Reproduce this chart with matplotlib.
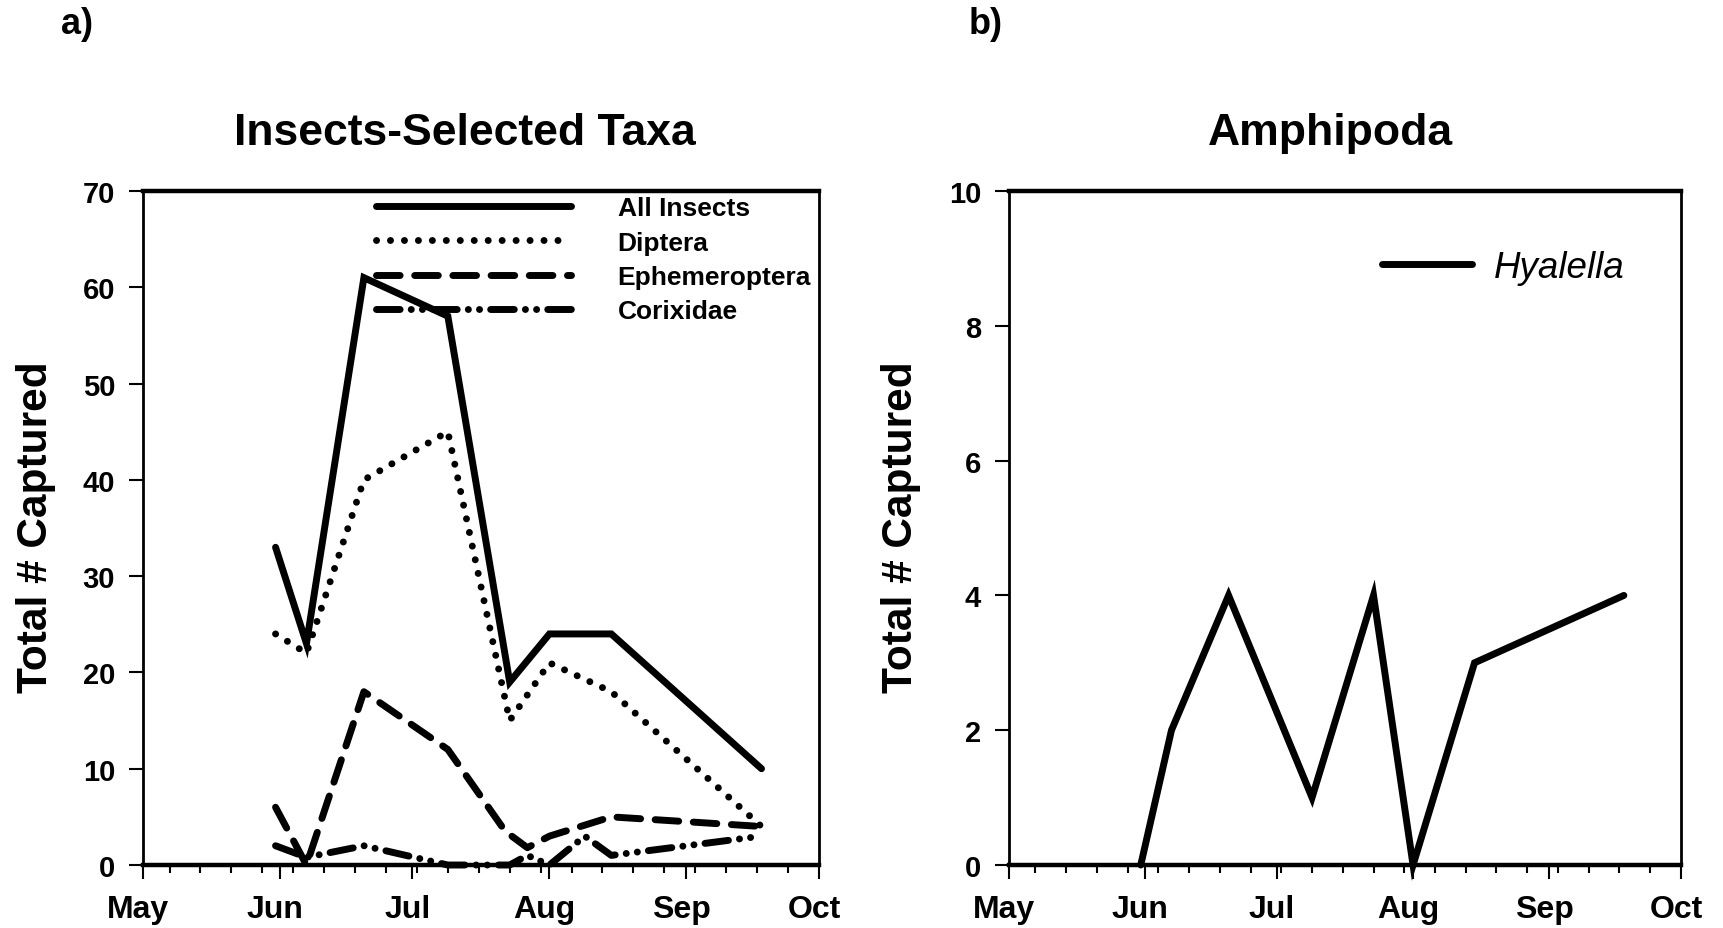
import numpy as np
import matplotlib
matplotlib.use('Agg')
import matplotlib.pyplot as plt
import matplotlib.transforms as mtransforms

plt.rcParams['font.family'] = ['Liberation Sans', 'DejaVu Sans']

# days counted from 1 May
month_days = [0, 31, 61, 92, 123, 153]
month_names = ['May', 'Jun', 'Jul', 'Aug', 'Sep', 'Oct']

days = [30, 37, 50, 69, 83, 92, 106, 140]
all_insects = [33, 23, 61, 57, 19, 24, 24, 10]
diptera = [24, 22, 40, 45, 15, 21, 18, 4]

eph_days = [30, 37, 50, 69, 82, 87, 92, 106, 140]
ephemeroptera = [6, 0, 18, 12, 3.5, 1.8, 3, 5, 4]

cor_days = [30, 37, 50, 69, 83, 87, 92, 100, 106, 140]
corixidae = [2, 0.8, 2, 0, 0, 1, 0, 3, 1, 3]

hyalella = [0, 2, 4, 1, 4, 0, 3, 4]

lw = 5
fig = plt.figure(figsize=(17.23, 9.29), dpi=100)
ax1 = fig.add_axes([0.083, 0.0678, 0.3923, 0.7255])
ax2 = fig.add_axes([0.5856, 0.0678, 0.39, 0.7255])


def style_axes(ax, ymax, ystep):
    ax.set_xlim(0, 153)
    ax.set_ylim(0, ymax)
    ax.set_yticks(np.arange(0, ymax + 1, ystep))
    ax.set_xticks(month_days)
    ax.set_xticklabels(month_names)
    ax.set_xticks(range(6, 153, 7), minor=True)
    ax.tick_params(axis='x', which='major', direction='out', length=10, width=1.5,
                   labelsize=23, pad=11)
    ax.tick_params(axis='x', which='minor', direction='out', length=6, width=1.5)
    ax.tick_params(axis='y', direction='out', length=10, width=1.5, labelsize=21, pad=10)
    shift = mtransforms.ScaledTranslation(-5 / 100, 0, fig.dpi_scale_trans)
    for lab in ax.get_xticklabels():
        lab.set_transform(lab.get_transform() + shift)
    for lab in ax.get_xticklabels() + ax.get_yticklabels():
        lab.set_fontweight('bold')
    for s in ['top', 'bottom']:
        ax.spines[s].set_linewidth(3.2)
    for s in ['left', 'right']:
        ax.spines[s].set_linewidth(2)


kw = dict(color='black', lw=lw, clip_on=False, solid_joinstyle='miter',
          dash_capstyle='round', solid_capstyle='round')
ax1.plot(days, all_insects, label='All Insects', **kw)
ax1.plot(days, diptera, label='Diptera', dashes=(0.01, 2.0), **kw)
ax1.plot(eph_days, ephemeroptera, label='Ephemeroptera', dashes=(3.4, 2.1), **kw)
ax1.plot(cor_days, corixidae, label='Corixidae',
         dashes=(3.4, 1.6, 0.01, 1.6, 0.01, 1.6), **kw)
style_axes(ax1, 70, 10)
leg = ax1.legend(loc='upper left', bbox_to_anchor=(0.345, 0.992), frameon=False,
                 handlelength=7.4, handletextpad=1.75, labelspacing=0.39,
                 borderpad=0, borderaxespad=0, prop={'weight': 'bold', 'size': 19})

ax2.plot(days, hyalella, label='Hyalella', **kw)
style_axes(ax2, 10, 2)
ax2.legend(loc='upper left', bbox_to_anchor=(0.555, 0.912), frameon=False,
           handlelength=2.45, handletextpad=0.6, borderpad=0, borderaxespad=0,
           prop={'style': 'italic', 'size': 26.5})

fig.text(465 / 1723, 0.856, 'Insects-Selected Taxa', ha='center', va='center',
         fontsize=32, fontweight='bold')
fig.text(1330 / 1723, 0.856, 'Amphipoda', ha='center', va='center',
         fontsize=32, fontweight='bold')
fig.text(36 / 1723, 0.433, 'Total # Captured', rotation=90, ha='center', va='center',
         fontsize=30.5, fontweight='bold')
fig.text(901 / 1723, 0.433, 'Total # Captured', rotation=90, ha='center', va='center',
         fontsize=30.5, fontweight='bold')
fig.text(77 / 1723, 0.974, 'a)', ha='center', va='center', fontsize=26, fontweight='bold')
fig.text(986 / 1723, 0.974, 'b)', ha='center', va='center', fontsize=26, fontweight='bold')

fig.savefig('out.png', dpi=100)
